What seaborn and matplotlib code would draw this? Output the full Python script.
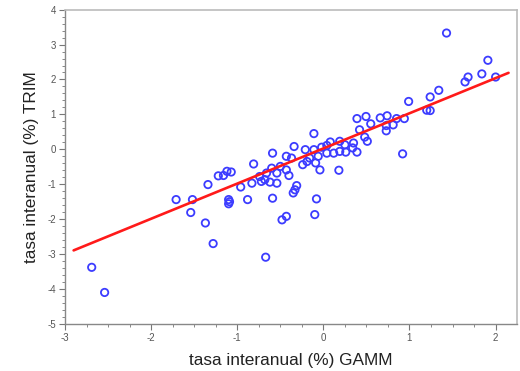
import numpy as np
import pandas as pd
import matplotlib
matplotlib.use("Agg")
import matplotlib.pyplot as plt
from matplotlib.ticker import MultipleLocator
import seaborn as sns

# GAMM annual rate (x) and TRIM annual rate (y)
gamm = [
    -2.69, -2.54, -1.71, -1.52, -1.54, -1.37, -1.28, -1.34, -1.22, -1.16,
    -1.12, -1.07, -1.10, -1.09, -1.10, -0.96, -0.88, -0.83, -0.81, -0.67,
    -0.48, -0.43, -0.10, -0.08,
    -0.74, -0.72, -0.66, -0.62, -0.60, -0.59, -0.59, -0.54, -0.54, -0.50,
    -0.43, -0.43, -0.40, -0.37, -0.35, -0.34, -0.33, -0.31, -0.24, -0.21,
    -0.19, -0.16, -0.11, -0.11, -0.09, -0.06, -0.04, -0.02, 0.04, 0.04,
    0.08, 0.12, 0.19, 0.18, 0.19, 0.25, 0.26, 0.35, 0.39, -0.68,
    1.43, 1.91, 1.84, 2.00, 1.68, 1.645, 1.34, 1.24, 0.99, 1.20,
    1.24, 0.94, 0.85, 0.74, 0.66, 0.81, 0.73, 0.73, 0.495, 0.39,
    0.55, 0.42, 0.48, 0.51, 0.34, 0.92,
]
trim = [
    -3.38, -4.10, -1.44, -1.44, -1.81, -2.11, -2.70, -1.01, -0.76, -0.75,
    -0.63, -0.65, -1.44, -1.50, -1.56, -1.08, -1.44, -0.97, -0.42, -3.09,
    -2.02, -1.92, -1.87, -1.42,
    -0.78, -0.92, -0.68, -0.94, -0.54, -0.11, -1.40, -0.68, -0.97, -0.49,
    -0.59, -0.20, -0.75, -0.25, -1.25, 0.08, -1.16, -1.04, -0.44, -0.01,
    -0.35, -0.25, 0.45, -0.01, -0.39, -0.20, -0.59, 0.06, 0.11, -0.11,
    0.21, -0.11, 0.23, -0.60, -0.06, 0.13, -0.08, 0.18, -0.08, -0.87,
    3.33, 2.55, 2.16, 2.07, 2.07, 1.93, 1.69, 1.50, 1.37, 1.12,
    1.11, 0.88, 0.88, 0.96, 0.90, 0.70, 0.68, 0.53, 0.94, 0.88,
    0.73, 0.56, 0.35, 0.23, 0.04, -0.13,
]
x_ticks = [-3, -2, -1, 0, 1, 2]
y_ticks = [-5, -4, -3, -2, -1, 0, 1, 2, 3, 4]

# regression line
fit_x = [-2.9, 2.15]
fit_slope = 1.007
fit_intercept = 0.025

df = pd.DataFrame({"GAMM": gamm, "TRIM": trim})
line_df = pd.DataFrame({"x": fit_x,
                        "y": [fit_intercept + fit_slope * v for v in fit_x]})

sns.set_theme(style="white")
plt.rcParams["font.family"] = ["Liberation Sans", "DejaVu Sans"]

fig = plt.figure(figsize=(5.2, 3.71), dpi=100)
ax = fig.add_axes([0.125, 0.127, 0.8687, 0.847])

sns.scatterplot(data=df, x="GAMM", y="TRIM", ax=ax, marker="o", s=28,
                facecolors="none", edgecolor="#3c3cff", linewidth=1.3,
                zorder=3)
sns.lineplot(data=line_df, x="x", y="y", ax=ax, color="#ff1a1a",
             linewidth=1.9, zorder=4)

ax.set_xlim(-3, 2.245)
ax.set_ylim(-5, 4)
ax.set_xticks(x_ticks)
ax.set_yticks(y_ticks)
ax.set_xticklabels([str(v) for v in x_ticks])
ax.set_yticklabels([str(v) for v in y_ticks])
ax.xaxis.set_minor_locator(MultipleLocator(0.25))
ax.yaxis.set_minor_locator(MultipleLocator(0.2))
ax.tick_params(axis="both", which="major", direction="out", length=4,
               width=0.8, color="#777777", labelsize=7,
               labelcolor="#555555", pad=2.5)
ax.tick_params(axis="both", which="minor", direction="out", length=2,
               width=0.7, color="#888888")
ax.tick_params(bottom=True, left=True, top=False, right=False)
ax.tick_params(which="minor", bottom=True, left=True, top=False, right=False)

for side in ["left", "bottom"]:
    ax.spines[side].set_color("#888888")
    ax.spines[side].set_linewidth(1.0)
for side in ["top", "right"]:
    ax.spines[side].set_color("#bbbbbb")
    ax.spines[side].set_linewidth(1.2)

ax.set_xlabel("tasa interanual (%) GAMM", fontsize=12.4, color="#222222",
              labelpad=7)
ax.set_ylabel("tasa interanual (%) TRIM", fontsize=12.4, color="#222222",
              labelpad=6)
ax.grid(False)

fig.savefig("out.png", dpi=100)
